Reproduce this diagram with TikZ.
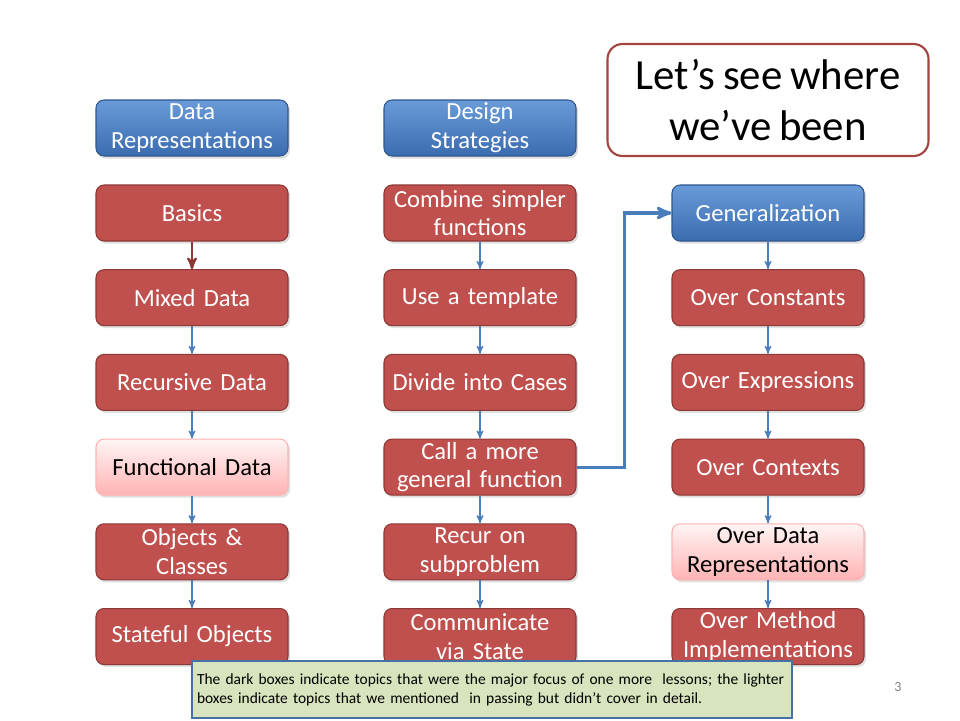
\documentclass[tikz,border=0pt]{standalone}
\usepackage{fontspec}
\setmainfont[WordSpace=0.8]{Carlito}
\usetikzlibrary{arrows,positioning,shadows}

\definecolor{darkred}{HTML}{C0504D}
\definecolor{redline}{HTML}{8C3836}
\definecolor{blueline}{HTML}{4A7EBB}
\definecolor{bluetop}{HTML}{6A9BD8}
\definecolor{bluebot}{HTML}{3A6CB0}
\definecolor{noteback}{HTML}{D7E4BD}

\begin{document}
\begin{tikzpicture}[->,>=stealth',node distance=0.553cm,semithick]
	\tikzstyle{box}=[rounded corners=0.16cm,minimum width=3.84cm,minimum height=1.12cm,
		text width=3.7cm,align=center,inner sep=1pt,font=\fontsize{14}{16.4}\selectfont,
		drop shadow={opacity=0.25,shadow xshift=0.04cm,shadow yshift=-0.05cm}]
	\tikzstyle{dark}=[box,fill=darkred,draw=redline,text=white]
	\tikzstyle{light}=[box,top color=red!4,bottom color=red!30,draw=red!30,text=black]
	\tikzstyle{head}=[box,top color=bluetop,bottom color=bluebot,draw=bluebot!80!black,text=white]
	\tikzstyle{link}=[draw=blueline,line width=0.7pt]

	\useasboundingbox (0,0) rectangle (19.2,-14.4);

	% column 1
	\node[head] (datarep) at (3.84,-2.56) {Data\\Representations};
	\node[dark] (basics) at (3.84,-4.26) {Basics};
	\node[dark] (mixed) [below=of basics] {Mixed Data};
	\node[dark] (recdata) [below=of mixed] {Recursive Data};
	\node[light] (fundata) [below=of recdata] {Functional Data};
	\node[dark] (objects) [below=of fundata] {Objects \&\\Classes};
	\node[dark] (stateful) [below=of objects] {Stateful Objects};

	% column 2
	\node[head] (design) at (9.6,-2.56) {Design\\Strategies};
	\node[dark] (combine) at (9.6,-4.26) {Combine simpler\\functions};
	\node[dark] (template) [below=of combine] {Use a template};
	\node[dark] (cases) [below=of template] {Divide into Cases};
	\node[dark] (call) [below=of cases] {Call a more\\general function};
	\node[dark] (recur) [below=of call] {Recur on\\subproblem};
	\node[dark] (commun) [below=of recur] {Communicate\\via State};

	% column 3
	\node[head] (general) at (15.36,-4.26) {Generalization};
	\node[dark] (constants) [below=of general] {Over Constants};
	\node[dark] (express) [below=of constants] {Over Expressions};
	\node[dark] (contexts) [below=of express] {Over Contexts};
	\node[light] (overdata) [below=of contexts] {Over Data\\Representations};
	\node[dark] (methods) [below=of overdata] {Over Method\\Implementations};

	\node[draw=darkred!85!black,line width=1.2pt,rounded corners=0.3cm,minimum width=6.42cm,
		minimum height=2.24cm,align=center,font=\fontsize{24.4}{29}\selectfont] (title)
		at (15.36,-2.0) {Let’s see where\\we’ve been};

	\path
	(basics) edge[draw=redline,line width=1.3pt] (mixed)
	(mixed) edge[link] (recdata)
	(recdata) edge[link] (fundata)
	(fundata) edge[link] (objects)
	(objects) edge[link] (stateful)
	(combine) edge[link] (template)
	(template) edge[link] (cases)
	(cases) edge[link] (call)
	(call) edge[link] (recur)
	(recur) edge[link] (commun)
	(general) edge[link] (constants)
	(constants) edge[link] (express)
	(express) edge[link] (contexts)
	(contexts) edge[link] (overdata)
	(overdata) edge[link] (methods)
	;
	\draw[draw=blueline,line width=1.8pt] (call.east) -- ++(0.96,0) |- (general.west);

	\node[fill=noteback,draw=blueline!90!black,line width=0.9pt,minimum width=12cm,minimum height=1.14cm,
		text width=11.8cm,align=left,inner sep=0pt,font=\fontsize{8.8}{10.8}\selectfont] (note)
		at (9.84,-13.79) {The dark boxes indicate topics that were the major focus of one more~ lessons; the lighter\\boxes indicate topics that we mentioned~ in passing but didn’t cover in detail.};
	\node[text=gray,font=\fontsize{8}{10}\selectfont] (pagenum) at (17.96,-13.74) {3};
\end{tikzpicture}
\end{document}
